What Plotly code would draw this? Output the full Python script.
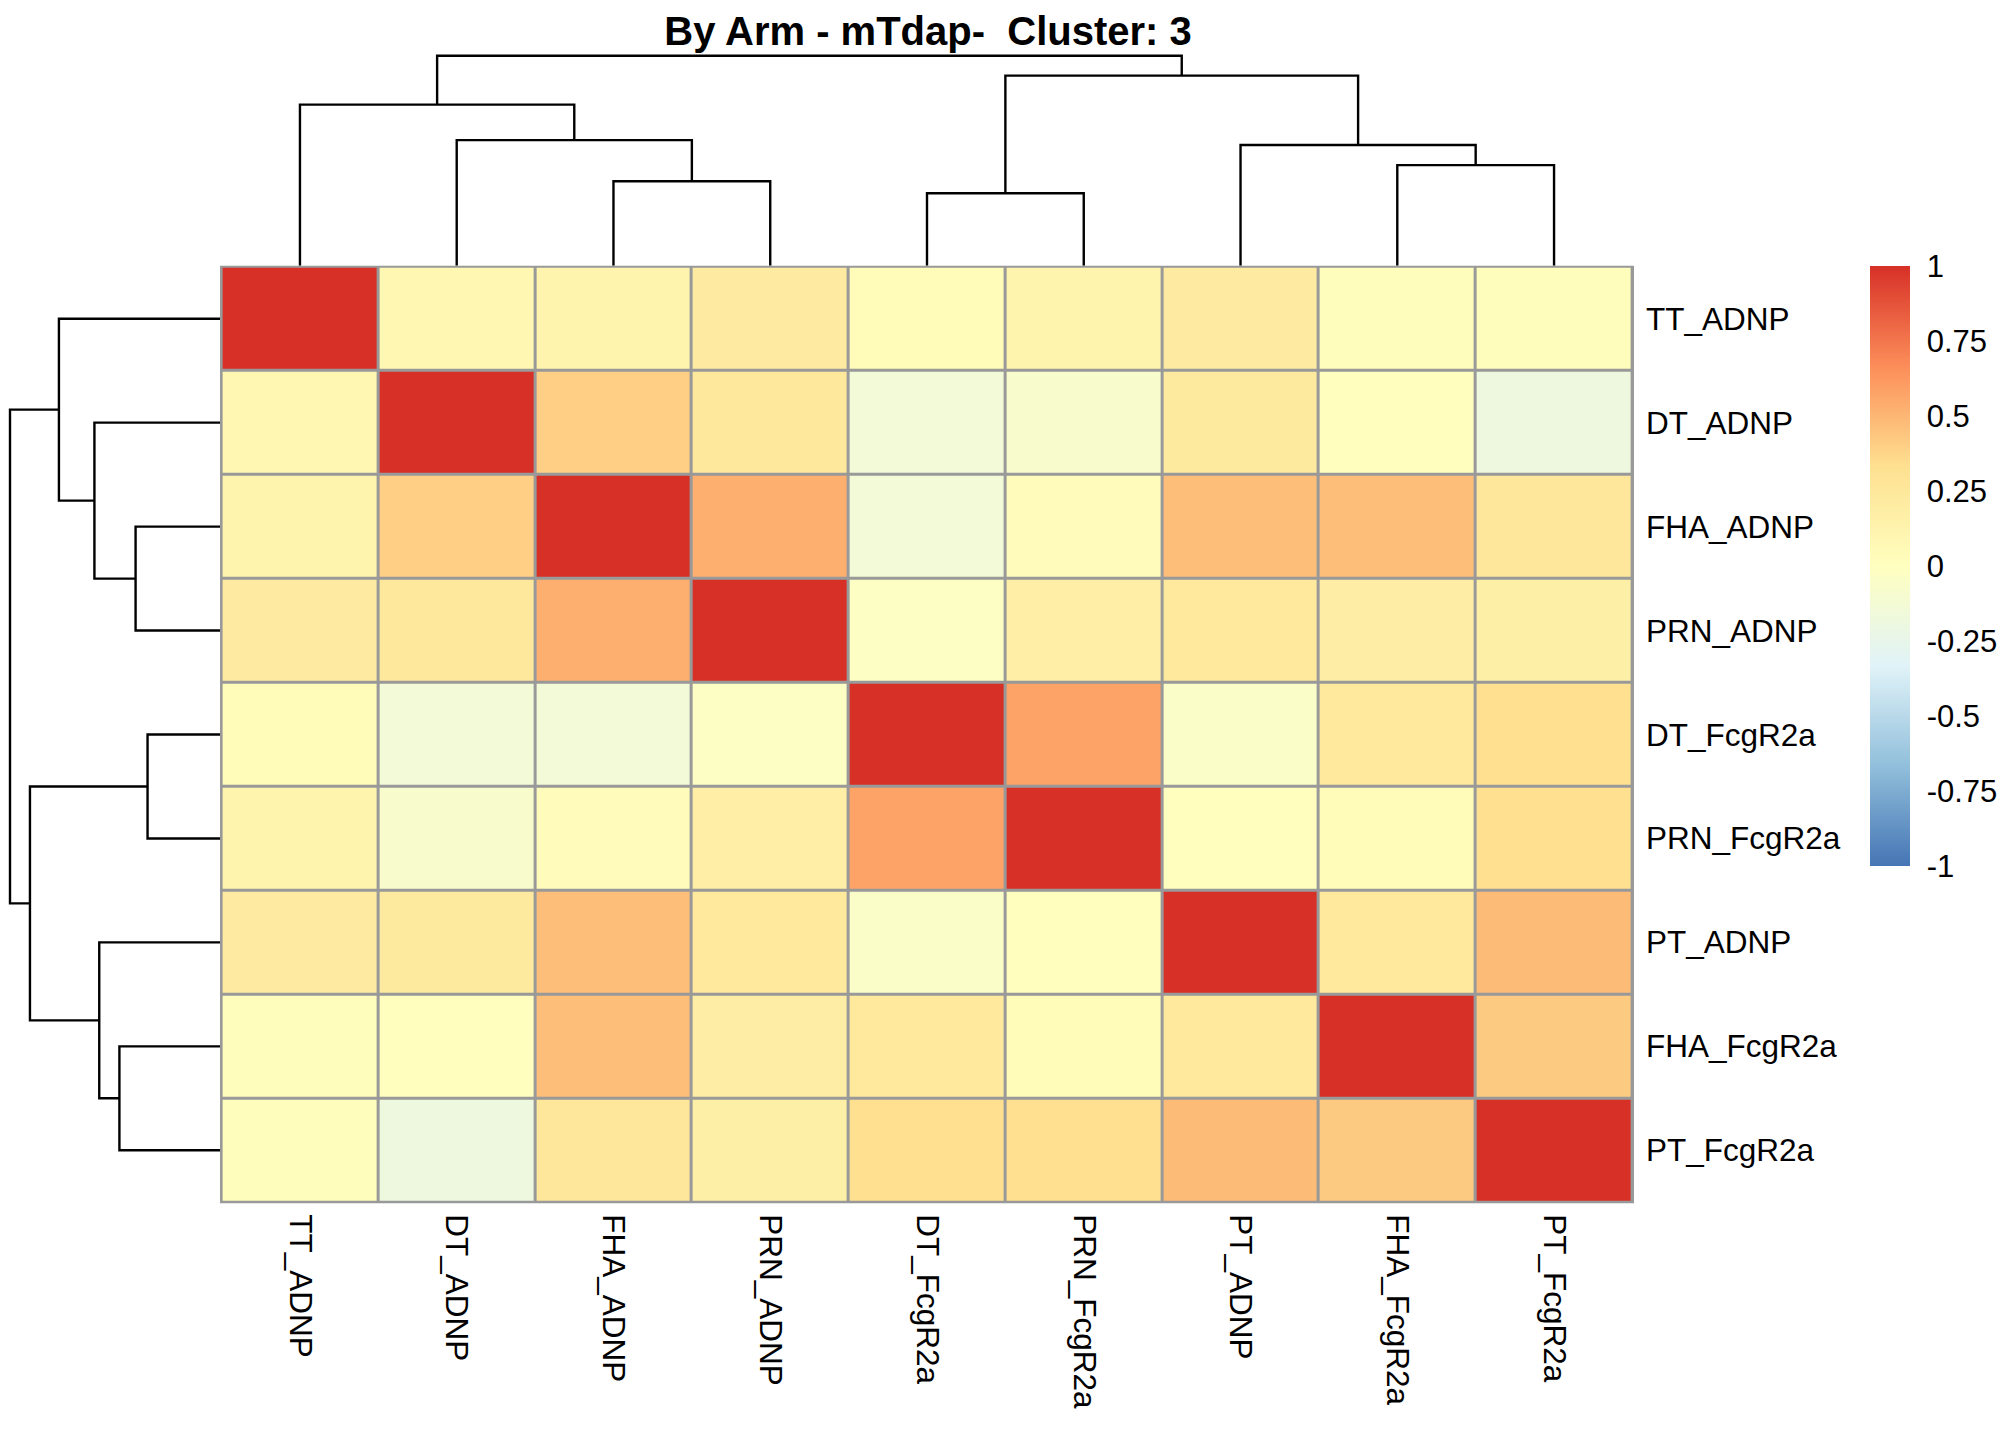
"""
Correlation heatmap with hierarchical clustering dendrograms (pheatmap style)
"""

import plotly.graph_objects as go

# Features in clustered display order (same for rows and columns)
labels = ["TT_ADNP", "DT_ADNP", "FHA_ADNP", "PRN_ADNP", "DT_FcgR2a",
          "PRN_FcgR2a", "PT_ADNP", "FHA_FcgR2a", "PT_FcgR2a"]

# Correlation matrix, rows top to bottom, columns left to right
corr = [
    [1.00, 0.09, 0.12, 0.21, 0.04, 0.12, 0.21, 0.02, 0.02],
    [0.09, 1.00, 0.40, 0.25, -0.14, -0.08, 0.23, 0.01, -0.19],
    [0.12, 0.40, 1.00, 0.53, -0.14, 0.03, 0.47, 0.47, 0.26],
    [0.21, 0.25, 0.53, 1.00, -0.03, 0.18, 0.24, 0.19, 0.17],
    [0.04, -0.14, -0.14, -0.03, 1.00, 0.58, -0.05, 0.24, 0.33],
    [0.12, -0.08, 0.03, 0.18, 0.58, 1.00, 0.01, 0.04, 0.33],
    [0.21, 0.23, 0.47, 0.24, -0.05, 0.01, 1.00, 0.24, 0.48],
    [0.02, 0.01, 0.47, 0.19, 0.24, 0.04, 0.24, 1.00, 0.42],
    [0.02, -0.19, 0.26, 0.17, 0.33, 0.33, 0.48, 0.42, 1.00],
]

# hclust merges on display positions: (left, right, height)
# ids 0-8 are leaves, id 9 + k is the k-th merge below
merges = [
    (4, 5, 0.345),
    (2, 3, 0.402),
    (7, 8, 0.479),
    (6, 11, 0.575),
    (1, 10, 0.598),
    (0, 13, 0.767),
    (9, 12, 0.905),
    (14, 15, 1.000),
]

legend_vals = [1, 0.75, 0.5, 0.25, 0, -0.25, -0.5, -0.75, -1]
legend_text = ["1", "0.75", "0.5", "0.25", "0", "-0.25", "-0.5", "-0.75", "-1"]

# rev(brewer.pal(7, "RdYlBu"))
palette = ["#4575B4", "#91BFDB", "#E0F3F8", "#FFFFBF", "#FEE090", "#FC8D59", "#D73027"]

title_text = "By Arm - mTdap-\u00a0 Cluster: 3"

W, H = 2016, 1440
FONT = "Liberation Sans, Arial, sans-serif"


def px_x(p):
    return min(max(p / W, 0), 1)


def px_y(p):
    return min(max(1 - p / H, 0), 1)


def dendro_segments(merges, n):
    """Turn a merge list into elbow line coordinates (position, height)"""
    pos = {i: float(i) for i in range(n)}
    hgt = {i: 0.0 for i in range(n)}
    xs, hs = [], []
    for k, (a, b, h) in enumerate(merges):
        xs += [pos[a], pos[a], pos[b], pos[b], None]
        hs += [hgt[a], h, h, hgt[b], None]
        pos[n + k] = (pos[a] + pos[b]) / 2
        hgt[n + k] = h
    return xs, hs


n = len(labels)
idx = list(range(n))
dx, dh = dendro_segments(merges, n)

# heatmap box in pixels (outer edge of the grey border)
left, right, top, bottom = 212, 1626, 257.7, 1195.3
tree_span = 210
pad = 0.01
xr = [-0.5 - pad, n - 0.5 + pad]
yr = [n - 0.5 + pad, -0.5 - pad]
col_hmax = 1.015
row_hmax = left / tree_span   # row tree fills the whole left margin

colorscale = [[i / (len(palette) - 1), c] for i, c in enumerate(palette)]

heat = go.Heatmap(
    z=corr, x=idx, y=idx,
    zmin=-1, zmax=1,
    colorscale=colorscale,
    xgap=3, ygap=3,
    hovertemplate="%{z:.2f}<extra></extra>",
    colorbar=dict(
        x=px_x(1862), xanchor="left", xpad=0,
        y=px_y(257.7), yanchor="top", ypad=0,
        len=600, lenmode="pixels",
        thickness=40, outlinewidth=0,
        tickvals=legend_vals, ticktext=legend_text,
        ticks="outside", ticklen=11, tickcolor="rgba(0,0,0,0)",
        tickfont=dict(family=FONT, size=31, color="black"),
    ),
)

col_tree = go.Scatter(
    x=dx, y=dh, xaxis="x2", yaxis="y2", mode="lines",
    line=dict(color="black", width=2.4), hoverinfo="skip", showlegend=False,
)

row_tree = go.Scatter(
    x=dh, y=dx, xaxis="x3", yaxis="y3", mode="lines",
    line=dict(color="black", width=2.4), hoverinfo="skip", showlegend=False,
)

fig = go.Figure(data=[heat, col_tree, row_tree])

# grey backing behind the heatmap bricks gives the cell borders
fig.add_shape(
    type="rect", xref="x domain", yref="y domain",
    x0=0, x1=1, y0=0, y1=1,
    fillcolor="#999999", line=dict(width=0), layer="below",
)

fig.update_layout(
    width=W, height=H,
    margin=dict(l=0, r=0, t=0, b=0),
    paper_bgcolor="white",
    plot_bgcolor="white",
    showlegend=False,
    title=dict(
        text=title_text,
        x=px_x(920), xanchor="center",
        y=px_y(23), yanchor="middle",
        font=dict(family=FONT, size=40, color="black", weight="bold"),
    ),
    xaxis=dict(
        domain=[px_x(left), px_x(right)], range=xr,
        tickvals=idx, ticktext=labels, tickangle=90,
        ticks="", ticklabelstandoff=10,
        tickfont=dict(family=FONT, size=31.5, color="black"),
        showgrid=False, zeroline=False, showline=False,
    ),
    yaxis=dict(
        domain=[px_y(bottom), px_y(top)], range=yr,
        tickvals=idx, ticktext=labels, side="right",
        ticks="", ticklabelstandoff=11,
        tickfont=dict(family=FONT, size=31.5, color="black"),
        showgrid=False, zeroline=False, showline=False,
    ),
    xaxis2=dict(domain=[px_x(left), px_x(right)], range=xr, visible=False),
    yaxis2=dict(domain=[px_y(top), px_y(top - tree_span * col_hmax)],
                range=[0, col_hmax], visible=False),
    xaxis3=dict(domain=[0, px_x(left)], range=[row_hmax, 0], visible=False),
    yaxis3=dict(domain=[px_y(bottom), px_y(top)], range=yr, visible=False),
)

fig.write_html("out.html")
